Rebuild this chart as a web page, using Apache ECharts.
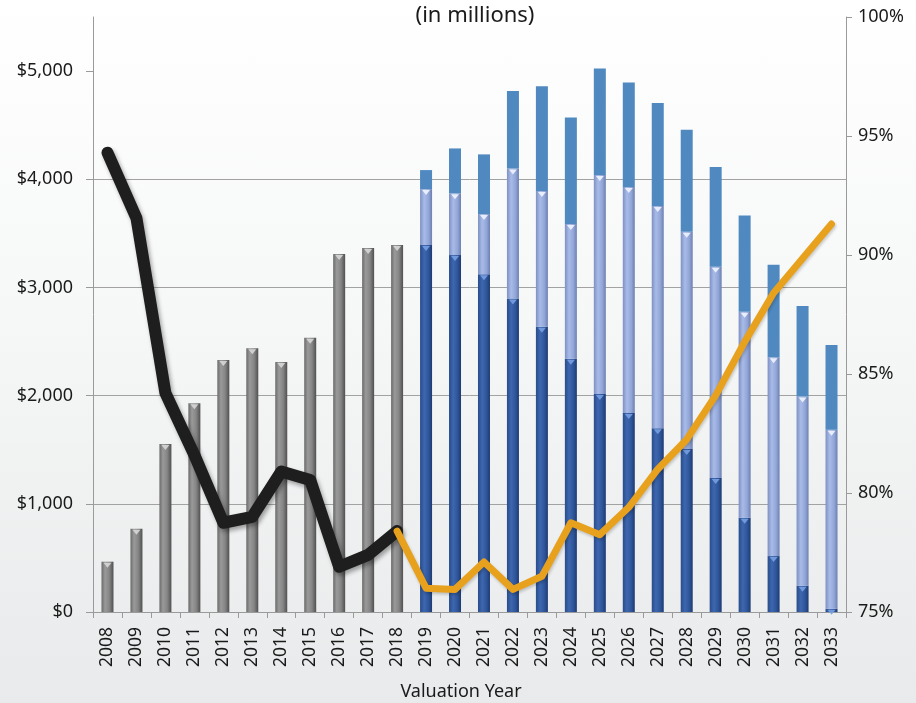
<!DOCTYPE html>
<html>
<head>
<meta charset="utf-8">
<script src="https://cdn.jsdelivr.net/npm/echarts@6/dist/echarts.min.js"></script>
<style>
  html, body { margin: 0; padding: 0; }
  #chart { width: 916px; height: 703px; background: linear-gradient(#ffffff 0%, #f6f7f7 45%, #e8eaeb 100%); }
</style>
</head>
<body>
<div id="chart"></div>
<script>
// Valuation years
const years = ['2008','2009','2010','2011','2012','2013','2014','2015','2016','2017','2018',
  '2019','2020','2021','2022','2023','2024','2025','2026','2027','2028','2029','2030','2031','2032','2033'];

// Historical amounts, $ millions (2008-2018)
const historical = [465, 770, 1553, 1930, 2329, 2437, 2310, 2535, 3309, 3364, 3392];

// Projected amounts, $ millions (2019-2033), three stacked components
const projLower  = [3392, 3299, 3121, 2899, 2637, 2342, 2015, 1840, 1698, 1506, 1238, 871, 517, 243, 30];
const projMiddle = [ 517,  571,  557, 1201, 1254, 1244, 2024, 2088, 2054, 2009, 1953, 1904, 1837, 1750, 1655];
const projUpper  = [ 176,  415,  552,  715,  969,  986,  986,  967,  952,  942,  922,  891,  856,  835,  783];

// Ratio lines on the right axis (%)
const ratioHistorical = [94.3, 91.55, 84.2, 81.6, 78.75, 79.0, 80.9, 80.55, 76.9, 77.4, 78.4];
const ratioProjected  = [78.4, 76.0, 75.95, 77.1, 75.95, 76.5, 78.75, 78.25, 79.4, 81.0, 82.25, 84.1, 86.35, 88.4, 89.85, 91.3];

// Axis ticks
const leftTicks  = [0, 1000, 2000, 3000, 4000, 5000];
const rightTicks = [75, 80, 85, 90, 95, 100];

const nHist = historical.length;
const pad = (n) => new Array(n).fill(null);
const histSeries   = historical.concat(pad(years.length - nHist));
const lowerSeries  = pad(nHist).concat(projLower);
const middleSeries = pad(nHist).concat(projMiddle);
const upperSeries  = pad(nHist).concat(projUpper);
const blackLine    = ratioHistorical.concat(pad(years.length - nHist));
const orangeLine   = pad(nHist - 1).concat(ratioProjected);

// Bevel caps at the top of the cylinder-style segments: [category, stacked top, style]
const caps = [];
historical.forEach((v, i) => caps.push([i, v, 0]));
projLower.forEach((v, i) => {
  caps.push([nHist + i, v, 1]);
  caps.push([nHist + i, v + projMiddle[i], 2]);
});
const capColors = ['rgba(215,215,215,0.9)', 'rgba(120,160,225,0.9)', 'rgba(235,240,252,0.95)'];

const grad = (stops) => new echarts.graphic.LinearGradient(0, 0, 1, 0,
  stops.map(([o, c]) => ({ offset: o, color: c })));

const fontFam = '"Noto Sans", "Open Sans", sans-serif';
const textColor = '#1a1a1a';
const axisGray = '#9a9a9a';
const chart = echarts.init(document.getElementById('chart'), null, { renderer: 'canvas' });

chart.setOption({
  animation: false,
  backgroundColor: 'transparent',
  title: [
    {
      text: '(in millions)',
      left: 470, top: 0, textAlign: 'center',
      textStyle: { fontFamily: fontFam, fontSize: 22, fontWeight: 'normal', color: textColor }
    },
    {
      text: 'Valuation Year',
      left: 456, top: 678, textAlign: 'center',
      textStyle: { fontFamily: fontFam, fontSize: 18, fontWeight: 'normal', color: textColor }
    }
  ],
  grid: { left: 93, right: 70, top: 17, bottom: 91, containLabel: false, outerBoundsMode: 'none' },
  xAxis: {
    type: 'category',
    data: years,
    boundaryGap: true,
    axisLine: { lineStyle: { color: axisGray, width: 1 } },
    axisTick: { show: true, length: 6, lineStyle: { color: axisGray } },
    axisLabel: { rotate: 90, fontFamily: fontFam, fontSize: 17.5, color: textColor, margin: 15, interval: 0 }
  },
  yAxis: [
    {
      type: 'value', min: 0, max: 5500, interval: 1000, position: 'left',
      axisLine: { show: true, lineStyle: { color: axisGray } },
      axisTick: { show: true, length: 7, lineStyle: { color: axisGray }, customValues: leftTicks },
      axisLabel: {
        customValues: leftTicks,
        fontFamily: fontFam, fontSize: 18, color: textColor, margin: 20,
        formatter: (v) => '$' + v.toLocaleString('en-US')
      },
      splitLine: {
        show: true, showMaxLine: false,
        lineStyle: { color: ['#a2a2a2', '#a2a2a2', '#a2a2a2', '#a2a2a2', '#a2a2a2', '#a2a2a2', 'rgba(0,0,0,0)'], width: 1 }
      }
    },
    {
      type: 'value', min: 75, max: 100, interval: 5, position: 'right',
      axisLine: { show: true, lineStyle: { color: axisGray } },
      axisTick: { show: true, length: 6, lineStyle: { color: axisGray }, customValues: rightTicks },
      axisLabel: {
        customValues: rightTicks,
        fontFamily: fontFam, fontSize: 18, color: textColor, margin: 12,
        formatter: (v) => v + '%'
      },
      splitLine: { show: false }
    }
  ],
  series: [
    {
      name: 'Historical', type: 'bar', stack: 'amt', barWidth: 12, data: histSeries,
      itemStyle: { color: grad([[0, '#6a6a6a'], [0.3, '#9a9a9a'], [0.65, '#858585'], [1, '#505050']]) }
    },
    {
      name: 'Projected lower', type: 'bar', stack: 'amt', barWidth: 12, data: lowerSeries,
      itemStyle: { color: grad([[0, '#294c8a'], [0.35, '#3d67b0'], [0.7, '#2f569a'], [1, '#1d3a72']]) }
    },
    {
      name: 'Projected middle', type: 'bar', stack: 'amt', barWidth: 12, data: middleSeries,
      itemStyle: { color: grad([[0, '#7d90c2'], [0.35, '#a8bbe8'], [0.7, '#93a7d8'], [1, '#6c7fb0']]) }
    },
    {
      name: 'Projected upper', type: 'bar', stack: 'amt', barWidth: 12, data: upperSeries,
      itemStyle: { color: '#4f89c0' }
    },
    {
      name: 'Caps', type: 'custom', data: caps, z: 3, silent: true,
      renderItem: (params, api) => {
        const p = api.coord([api.value(0), api.value(1)]);
        const w = 4, h = 5;
        return {
          type: 'polygon',
          shape: { points: [[p[0] - w, p[1] + 1], [p[0] + w, p[1] + 1], [p[0], p[1] + 1 + h]] },
          style: { fill: capColors[api.value(2)] }
        };
      }
    },
    {
      name: 'Ratio historical', type: 'line', yAxisIndex: 1, data: blackLine,
      symbol: 'none', connectNulls: false, z: 5,
      lineStyle: { color: '#1e1e1e', width: 12, cap: 'round', join: 'round',
        shadowColor: 'rgba(0,0,0,0.35)', shadowBlur: 4, shadowOffsetX: 2, shadowOffsetY: 3 }
    },
    {
      name: 'Ratio projected', type: 'line', yAxisIndex: 1, data: orangeLine,
      symbol: 'none', connectNulls: false, z: 6,
      lineStyle: { color: '#e8a11c', width: 7, cap: 'round', join: 'round',
        shadowColor: 'rgba(0,0,0,0.2)', shadowBlur: 3, shadowOffsetX: 1, shadowOffsetY: 2 }
    }
  ]
});
</script>
</body>
</html>
